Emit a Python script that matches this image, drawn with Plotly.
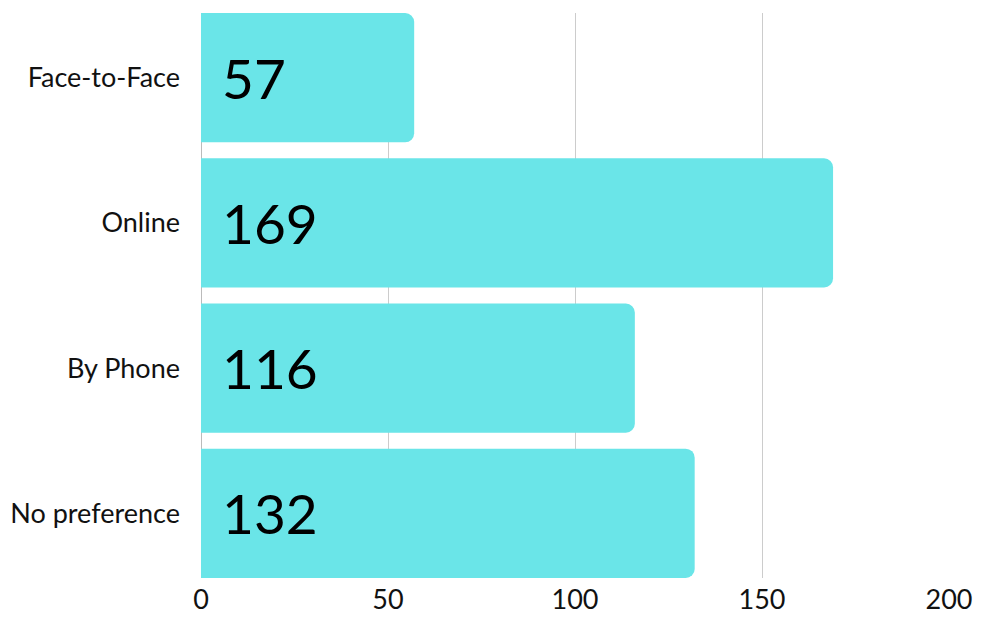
import plotly.graph_objects as go

categories = ["Face-to-Face", "Online", "By Phone", "No preference"]
values = [57, 169, 116, 132]
x_ticks = [0, 50, 100, 150, 200]

BAR = "#6ae5e8"
FONT = "Lato"

fig = go.Figure()
fig.add_trace(go.Bar(
    y=categories, x=values, orientation="h",
    marker=dict(color=BAR, cornerradius=9, line=dict(width=0)),
    hoverinfo="skip",
))

for c, v in zip(categories, values):
    fig.add_annotation(
        x=0, y=c, xref="x", yref="y", text=str(v), showarrow=False,
        xanchor="left", yanchor="middle", xshift=19,
        font=dict(family=FONT, size=55, color="#000"),
    )

fig.update_layout(
    width=991, height=617,
    margin=dict(l=201, r=42, t=13, b=39),
    paper_bgcolor="white", plot_bgcolor="white",
    bargap=0.11, showlegend=False,
    font=dict(family=FONT, color="#111"),
)
fig.update_xaxes(
    range=[0, 200], tickvals=x_ticks, showgrid=True, gridcolor="#cccccc", gridwidth=1,
    zeroline=True, zerolinecolor="#bbbbbb", zerolinewidth=1,
    tickfont=dict(family=FONT, size=27, color="#111"), ticks="", ticklen=0,
    ticklabelstandoff=3, showline=False, automargin=False,
)
fig.update_yaxes(
    categoryorder="array", categoryarray=categories,
    range=[3.445, -0.445], showgrid=False, ticks="", ticklen=0,
    tickfont=dict(family=FONT, size=27, color="#111"), ticklabelstandoff=20,
    showline=False, automargin=False,
)

fig.write_html("out.html")
